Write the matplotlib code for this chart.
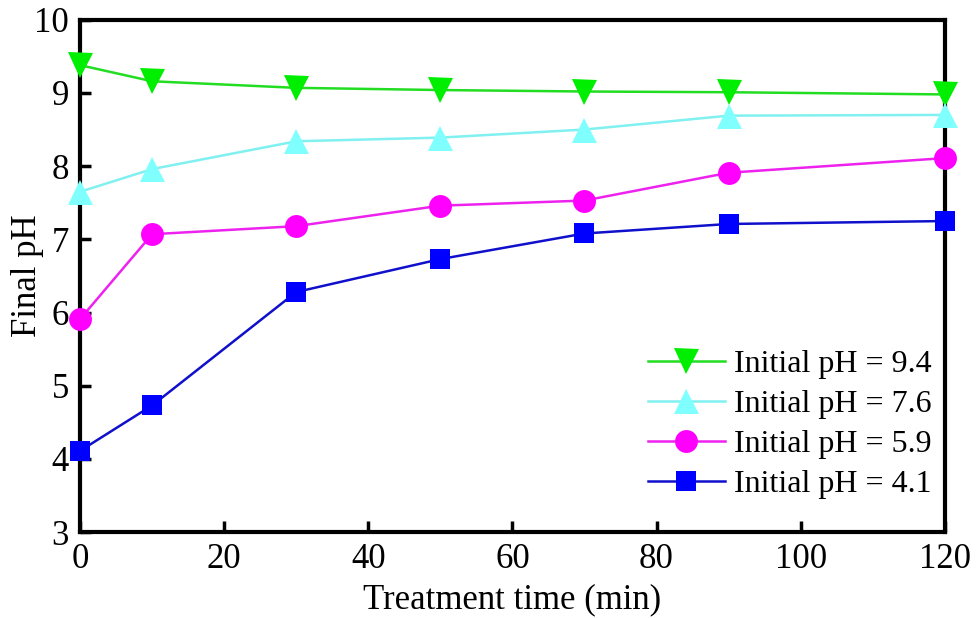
import matplotlib
matplotlib.use("Agg")
import matplotlib.pyplot as plt

# podaci ocitani sa slike
VRIJEME = [0, 10, 30, 50, 70, 90, 120]
PH_94 = [9.38, 9.16, 9.07, 9.04, 9.02, 9.01, 8.98]
PH_76 = [7.65, 7.96, 8.34, 8.39, 8.50, 8.69, 8.70]
PH_59 = [5.91, 7.07, 7.18, 7.46, 7.53, 7.91, 8.11]
PH_41 = [4.11, 4.73, 6.28, 6.73, 7.08, 7.21, 7.25]

SERIJE = [
    ("Initial pH = 9.4", PH_94, "v", "#00ee00", "#22dd22", 18),
    ("Initial pH = 7.6", PH_76, "^", "#80ffff", "#80f0f0", 18),
    ("Initial pH = 5.9", PH_59, "o", "#ff00ff", "#ee22ee", 16.5),
    ("Initial pH = 4.1", PH_41, "s", "#0000ff", "#1010cc", 15),
]

plt.rcParams["font.family"] = ["Liberation Serif", "DejaVu Serif"]

fig = plt.figure(figsize=(9.76, 6.18), dpi=100)
ax = fig.add_axes([0.082, 0.139, 0.886, 0.829])

for naziv, vrijednosti, marker, boja, boja_linije, velicina in SERIJE:
    ax.plot(VRIJEME, vrijednosti, color=boja_linije, lw=1.8, marker=marker,
            markersize=velicina, markerfacecolor=boja, markeredgecolor=boja,
            markeredgewidth=0, label=naziv, clip_on=False, zorder=3)

ax.set_xlim(0, 120)
ax.set_ylim(3, 10)
ax.set_xticks(range(0, 121, 20))
ax.set_yticks(range(3, 11))
ax.tick_params(direction="in", length=8, width=2.5, labelsize=25,
               top=False, right=False, pad=8)
for s in ax.spines.values():
    s.set_linewidth(3)

ax.set_xlabel("Treatment time (min)", fontsize=25, labelpad=5)
ax.set_ylabel("Final pH", fontsize=25)
ax.yaxis.set_label_coords(-0.042, 0.5)

ax.legend(loc="lower right", bbox_to_anchor=(0.985, 0.065), borderaxespad=0,
          frameon=False, fontsize=23, handlelength=2.4, handletextpad=0.3,
          labelspacing=0.33, borderpad=0)

fig.savefig("out.png", dpi=100)
